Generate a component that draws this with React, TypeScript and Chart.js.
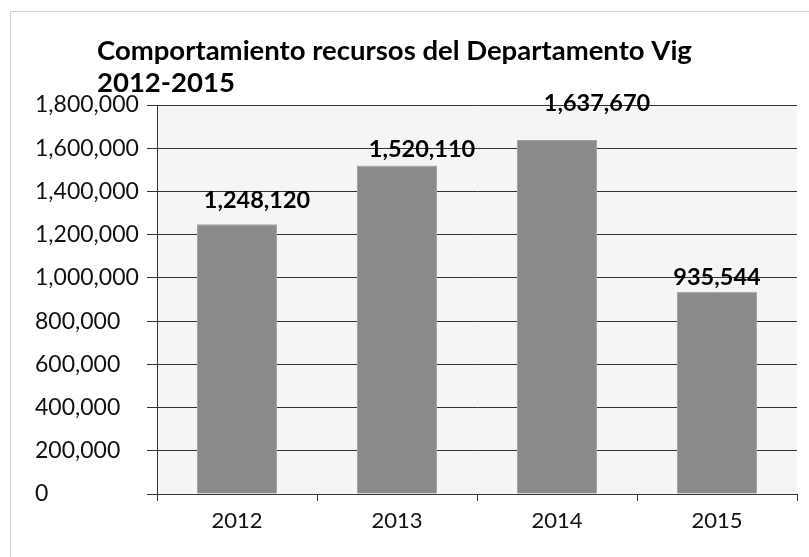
import React, { useEffect, useRef } from 'react';
import { Chart, registerables } from 'chart.js';

Chart.register(...registerables);

const categories: string[] = ['2012', '2013', '2014', '2015'];
const values: number[] = [1248120, 1520110, 1637670, 935544];
const yMin = 0;
const yMax = 1800000;
const yStep = 200000;
const titleLines: string[] = ['Comportamiento recursos del Departamento Vig', '2012-2015'];

// label placement relative to the bar top (pixels), as in the original
const labelDx: number[] = [20, 25, 40, 0];
const labelDy: number[] = [24, 16, 37, 14];

const FONT = 'Lato, "Open Sans", sans-serif';

const fmt = (v: number) => v.toLocaleString('en-US');

const decorPlugin = {
  id: 'decor',
  beforeDraw(chart: any) {
    const { ctx, chartArea, width, height } = chart;
    ctx.save();
    ctx.fillStyle = '#ffffff';
    ctx.fillRect(0, 0, width, height);
    ctx.strokeStyle = '#d0d0d0';
    ctx.lineWidth = 1;
    ctx.beginPath();
    ctx.moveTo(10.5, height);
    ctx.lineTo(10.5, 11.5);
    ctx.lineTo(width, 11.5);
    ctx.stroke();
    ctx.fillStyle = '#f5f5f5';
    ctx.fillRect(chartArea.left, chartArea.top, chartArea.right - chartArea.left, chartArea.bottom - chartArea.top);
    ctx.restore();
  },
  afterDatasetsDraw(chart: any) {
    const { ctx } = chart;
    const meta = chart.getDatasetMeta(0);
    ctx.save();
    ctx.fillStyle = '#000000';
    ctx.font = `bold 23.5px ${FONT}`;
    ctx.textAlign = 'center';
    ctx.textBaseline = 'middle';
    meta.data.forEach((bar: any, i: number) => {
      ctx.fillText(fmt(values[i]), bar.x + labelDx[i], bar.y - labelDy[i]);
    });
    ctx.font = `bold 27.5px ${FONT}`;
    ctx.textAlign = 'left';
    ctx.textBaseline = 'alphabetic';
    titleLines.forEach((line, i) => {
      ctx.fillText(line, 97, 60 + i * 32);
    });
    ctx.restore();
  },
};

export default function App() {
  const canvasRef = useRef<HTMLCanvasElement | null>(null);

  useEffect(() => {
    if (!canvasRef.current) return;
    const chart = new Chart(canvasRef.current, {
      type: 'bar',
      data: {
        labels: categories,
        datasets: [
          {
            data: values,
            backgroundColor: '#8a8a8a',
            borderColor: '#a2a2a2',
            borderWidth: 1,
            barPercentage: 0.5,
            categoryPercentage: 1.0,
          },
        ],
      },
      options: {
        animation: false,
        responsive: true,
        maintainAspectRatio: false,
        layout: { padding: { left: 35, top: 105, right: 12, bottom: 0 } },
        plugins: {
          legend: { display: false },
          tooltip: { enabled: false },
          title: { display: false },
        },
        scales: {
          x: {
            grid: {
              display: true,
              drawOnChartArea: false,
              drawTicks: true,
              tickLength: 7,
              color: '#333333',
              offset: true,
            },
            border: { display: true, color: '#333333' },
            ticks: {
              color: '#111111',
              font: { family: FONT, size: 22 },
              padding: 7,
            },
            afterFit(scale: any) {
              scale.height = 63;
            },
          },
          y: {
            min: yMin,
            max: yMax,
            grid: {
              color: '#333333',
              tickLength: 10,
            },
            border: { display: true, color: '#333333' },
            ticks: {
              stepSize: yStep,
              color: '#111111',
              crossAlign: 'far',
              font: { family: FONT, size: 23 },
              callback: (v: any) => fmt(Number(v)),
            },
            afterFit(scale: any) {
              scale.width = 122;
            },
          },
        },
      },
      plugins: [decorPlugin],
    });
    return () => chart.destroy();
  }, []);

  return (
    <div style={{ position: 'absolute', left: 0, top: 0, width: 809, height: 557, background: '#fff' }}>
      <canvas ref={canvasRef} />
    </div>
  );
}
